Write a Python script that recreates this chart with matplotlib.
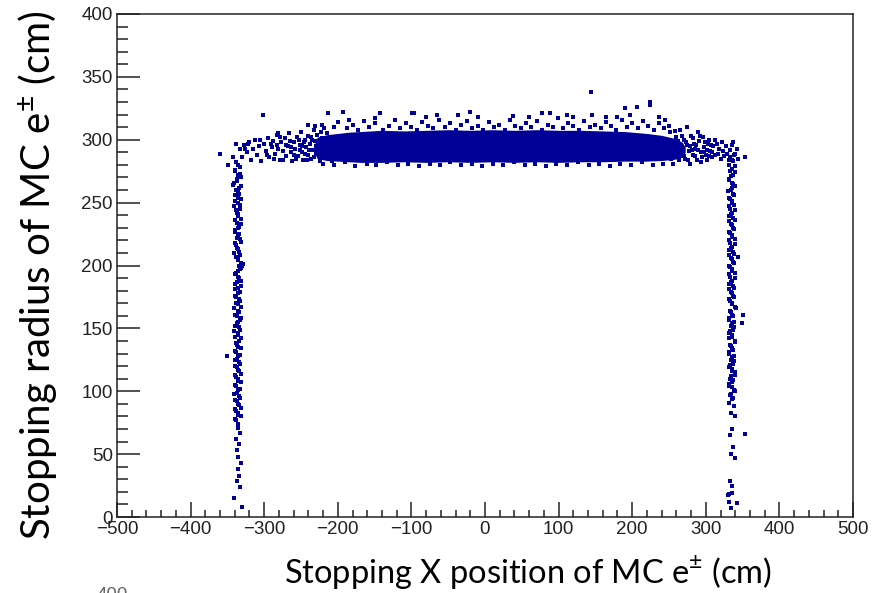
import numpy as np
import matplotlib
matplotlib.use('Agg')
import matplotlib.pyplot as plt
from matplotlib.ticker import MultipleLocator

matplotlib.rcParams['font.family'] = ['Liberation Sans', 'DejaVu Sans']
matplotlib.rcParams['mathtext.fontset'] = 'custom'
matplotlib.rcParams['mathtext.rm'] = 'Lato'
matplotlib.rcParams['axes.unicode_minus'] = True

# dense core of the band at r ~ 290 cm (too dense to pick single points)
core_x  = [-232, -228, -215, -200, -185, -170, -140, -110, -80, -50, -20, 10, 40, 70, 100, 130, 160, 190, 220, 240, 258, 268, 272]
core_lo = [290, 285, 283.5, 283, 282.5, 282, 282, 282.5, 282, 282.5, 282, 282.5, 282, 282.5, 282, 282.5, 282.5, 283, 283, 283.5, 284.5, 286, 290]
core_hi = [296, 302, 304, 305, 306, 306.5, 307.5, 307, 307.5, 308, 307.5, 308, 307.5, 308, 307.5, 307.5, 307, 306.5, 305, 303.5, 301, 298, 294]

# sparse left end of the band
band_left = [(-360, 289), (-349, 280), (-342, 286), (-338, 297), (-333, 293), (-330, 286), (-327, 296),
             (-326, 293), (-322, 297), (-324, 290), (-321, 298), (-318, 284), (-315, 293), (-312, 300),
             (-310, 288), (-307, 295), (-306, 300), (-302, 320), (-304, 283), (-300, 297), (-298, 291),
             (-295, 301), (-293, 286), (-290, 294), (-288, 299), (-285, 289), (-283, 304), (-281, 305),
             (-281, 293), (-279, 284), (-277, 298), (-275, 291), (-272, 301), (-270, 287), (-268, 295),
             (-266, 305), (-264, 290), (-262, 283), (-260, 298), (-258, 293), (-256, 302), (-254, 287),
             (-252, 296), (-250, 306), (-249, 290), (-247, 284), (-245, 300), (-243, 294), (-241, 288),
             (-240, 303), (-240, 312), (-238, 297), (-236, 285), (-234, 292), (-233, 308), (-231, 299),
             (-231, 311), (-229, 289), (-228, 304), (-226, 295), (-224, 283), (-222, 301), (-221, 290),
             (-219, 309), (-217, 296), (-216, 286), (-265, 299), (-257, 285), (-253, 300), (-248, 295),
             (-244, 289), (-239, 292), (-235, 300), (-232, 286), (-230, 295), (-227, 291), (-225, 298),
             (-223, 306), (-220, 294), (-218, 300), (-296, 288), (-291, 297), (-287, 285), (-282, 296),
             (-278, 302), (-274, 284), (-271, 296), (-263, 294), (-259, 288), (-251, 292), (-246, 298),
             (-242, 284), (-237, 302), (-214, 305), (-211, 291), (-208, 283), (-206, 299)]

# sparse right end of the band
band_right = [(252, 306), (255, 298), (257, 287), (259, 302), (261, 292), (263, 284), (265, 308), (266, 295),
              (268, 289), (270, 300), (272, 285), (274, 310), (275, 296), (277, 291), (279, 281), (280, 303),
              (282, 288), (284, 297), (286, 293), (288, 284), (289, 306), (291, 299), (293, 290), (295, 286),
              (296, 302), (298, 294), (300, 288), (301, 284), (303, 297), (305, 300), (306, 291), (308, 286),
              (310, 295), (312, 300), (313, 288), (315, 297), (317, 289), (318, 293), (320, 285), (322, 298),
              (324, 291), (325, 287), (327, 295), (329, 289), (331, 284), (333, 292), (335, 296), (337, 298),
              (338, 288), (340, 289), (342, 293), (344, 285), (353, 286), (251, 291), (253, 285), (256, 293),
              (258, 296), (260, 288), (262, 299), (264, 291), (267, 303), (269, 293), (271, 287), (273, 298),
              (276, 284), (278, 295), (281, 292), (283, 301), (285, 287), (287, 296), (290, 292), (292, 303),
              (294, 282), (297, 290), (299, 298), (302, 292), (304, 287), (307, 296), (309, 290)]

# points above and below the dense core
band_edge = [(-213, 321), (-193, 322), (-143, 321), (-99, 321), (-96, 321), (-65, 320), (-37, 320), (-20, 322),
             (38, 319), (77, 321), (88, 321), (111, 320), (145, 320), (165, 318), (197, 320), (245, 316),
             (143.6, 337.7), (224, 330), (224, 327.5), (206, 326), (190, 325),
             (-222, 312), (-205, 310), (-200, 314), (-187, 309), (-180, 312), (-172, 308), (-165, 315),
             (-158, 310), (-150, 313), (-138, 308), (-130, 311), (-122, 316), (-115, 309), (-108, 313),
             (-101, 310), (-93, 308), (-86, 314), (-78, 311), (-70, 309), (-62, 316), (-55, 310), (-48, 313),
             (-40, 308), (-32, 312), (-25, 315), (-17, 309), (-10, 311), (-3, 308), (5, 314), (12, 310),
             (19, 312), (27, 308), (34, 316), (41, 311), (49, 309), (56, 313), (63, 310), (70, 315), (78, 308),
             (85, 312), (92, 310), (99, 317), (106, 309), (113, 313), (120, 311), (128, 308), (135, 315),
             (142, 310), (150, 312), (157, 309), (164, 314), (171, 311), (178, 308), (186, 316), (193, 310),
             (200, 313), (208, 309), (215, 315), (222, 311), (229, 308), (236, 313), (243, 309), (250, 311),
             (258, 307), (236, 318), (180, 318), (120, 318), (60, 318), (-10, 318), (-80, 318), (-150, 317),
             (-185, 316),
             (-220, 281), (-205, 280), (-190, 282), (-176, 279.5), (-160, 281), (-148, 280), (-133, 282),
             (-118, 280), (-104, 281), (-90, 279.5), (-75, 281), (-61, 280), (-47, 282), (-32, 280), (-18, 281),
             (-4, 279.5), (11, 281), (25, 280), (40, 282), (54, 280), (68, 281), (83, 279.5), (97, 281),
             (112, 280), (126, 282), (141, 280), (155, 281), (170, 279.5), (184, 281), (199, 280), (213, 282),
             (228, 280), (242, 281), (256, 281)]

# left wall, x ~ -336 cm
wall_left = [(-338, 282), (-333, 278), (-340, 275), (-335, 272), (-331, 270), (-337, 267), (-342, 264),
             (-334, 262), (-336, 259), (-339, 256), (-332, 253), (-336, 250), (-341, 247), (-333, 245),
             (-337, 242), (-335, 239), (-339, 236), (-331, 233), (-336, 230), (-340, 228), (-334, 225),
             (-337, 222), (-332, 219), (-338, 216), (-335, 213), (-341, 210), (-333, 208), (-336, 205),
             (-331, 202), (-334, 200), (-330, 200), (-332, 198), (-336, 196), (-339, 193), (-334, 190),
             (-337, 187), (-332, 184), (-340, 181), (-335, 178), (-338, 175), (-333, 172), (-336, 169),
             (-341, 166), (-334, 163), (-337, 160), (-331, 158), (-335, 155), (-339, 152), (-333, 149),
             (-336, 146), (-340, 143), (-334, 140), (-337, 137), (-332, 134), (-338, 131), (-351, 128),
             (-335, 128), (-339, 125), (-333, 122), (-337, 119), (-334, 116), (-340, 113), (-336, 110),
             (-332, 107), (-338, 104), (-335, 101), (-341, 98), (-333, 95), (-337, 92), (-334, 89), (-339, 86),
             (-336, 83), (-332, 80), (-338, 77), (-335, 74),
             (-335, 280), (-339, 276), (-333, 273), (-337, 269), (-341, 266), (-332, 263), (-338, 260),
             (-334, 257), (-336, 254), (-340, 251), (-333, 248), (-338, 244), (-335, 241), (-332, 237),
             (-337, 234), (-334, 231), (-339, 227), (-336, 224), (-333, 221), (-340, 218), (-337, 214),
             (-334, 211), (-338, 207), (-335, 204), (-329, 201), (-333, 197), (-338, 194), (-335, 191),
             (-331, 188), (-339, 185), (-336, 182), (-333, 179), (-340, 176), (-334, 173), (-338, 170),
             (-332, 167), (-336, 164), (-339, 161), (-333, 157), (-337, 154), (-334, 151), (-341, 148),
             (-336, 145), (-332, 142), (-338, 138), (-335, 135), (-339, 132), (-333, 129), (-337, 126),
             (-334, 123), (-340, 120), (-336, 117), (-331, 114), (-338, 111), (-335, 108), (-339, 105),
             (-333, 102), (-337, 99), (-334, 96), (-340, 93), (-336, 90), (-332, 87), (-338, 84), (-335, 81),
             (-339, 78),
             (-336, 71), (-333, 67), (-338, 62), (-334, 58), (-337, 53), (-335, 48), (-332, 43), (-336, 38),
             (-334, 33), (-337, 29), (-333, 24), (-341, 15), (-330.6, 8)]

# right wall, x ~ 335 cm
wall_right = [(333, 286), (337, 283), (331, 280), (336, 277), (339, 274), (334, 271), (332, 268), (337, 265),
              (335, 262), (330, 259), (338, 256), (333, 253), (336, 250), (331, 247), (339, 244), (334, 241),
              (337, 238), (332, 235), (335, 232), (338, 229), (333, 226), (336, 223), (331, 220), (339, 217),
              (334, 214), (337, 211), (332, 208), (344, 207), (335, 205), (338, 202), (333, 199), (336, 196),
              (331, 193), (339, 190), (334, 187), (337, 184), (332, 181), (335, 178), (338, 175), (333, 172),
              (336, 169), (341, 166), (334, 163), (351, 160.6), (337, 160), (349, 154.5), (332, 157), (335, 154),
              (338, 151), (333, 148), (336, 145), (331, 142), (339, 139), (334, 136), (337, 133), (332, 130),
              (335, 127), (338, 124), (333, 121), (336, 118), (340, 115), (334, 112), (337, 109), (332, 106),
              (335, 103), (339, 100), (333, 97), (336, 94), (331, 91), (338, 88),
              (335, 284), (339, 279), (333, 275), (337, 272), (331, 269), (336, 266), (340, 263), (334, 260),
              (337, 257), (332, 254), (335, 251), (338, 248), (333, 245), (336, 242), (331, 239), (339, 236),
              (334, 233), (337, 230), (332, 227), (335, 224), (340, 221), (333, 218), (336, 215), (331, 212),
              (338, 209), (334, 206), (337, 203), (332, 200), (335, 197), (339, 194), (333, 191), (336, 188),
              (331, 185), (338, 182), (334, 179), (337, 176), (332, 173), (335, 170), (340, 167), (333, 164),
              (336, 161), (331, 158), (338, 155), (334, 152), (337, 149), (332, 146), (335, 143), (339, 140),
              (333, 137), (336, 134), (331, 131), (338, 128), (334, 125), (337, 122), (332, 119), (335, 116),
              (339, 113), (333, 110), (336, 107), (331, 104), (338, 101), (334, 98), (337, 95),
              (334, 83), (339, 80), (336, 70), (353, 66), (333, 65), (337, 56), (334, 50), (340, 47), (333, 29),
              (336, 25), (331.5, 18), (336, 19), (330.6, 17.5), (342.4, 11.4), (333.8, 7), (331.5, 12)]

col = '#000099'

fig = plt.figure(figsize=(8.74, 5.93), dpi=100)
ax = fig.add_axes([117/874, 1 - 517/593, 736/874, 503/593])

ax.fill_between(core_x, core_lo, core_hi, color=col, lw=0)
for grp in [band_left, band_right, band_edge, wall_left, wall_right]:
    pts = np.array(grp)
    ax.scatter(pts[:, 0], pts[:, 1], s=8, marker='s', color=col, linewidths=0)

ax.set_xlim(-500, 500)
ax.set_ylim(0, 400)
ax.xaxis.set_major_locator(MultipleLocator(100))
ax.xaxis.set_minor_locator(MultipleLocator(20))
ax.yaxis.set_major_locator(MultipleLocator(50))
ax.yaxis.set_minor_locator(MultipleLocator(10))
ax.tick_params(axis='both', which='both', direction='in', color='#222222', width=1.1,
               labelsize=13.5, labelcolor='#222222')
ax.tick_params(axis='x', which='major', length=10.8, pad=3)
ax.tick_params(axis='x', which='minor', length=5.4)
ax.tick_params(axis='y', which='major', length=16.3, pad=3)
ax.tick_params(axis='y', which='minor', length=8.1)
for sp in ax.spines.values():
    sp.set_linewidth(1.1)
    sp.set_color('#222222')

fig.text(528/874, 1 - 573/593, 'Stopping X position of MC e$^{\\pm}$ (cm)', family='Lato',
         fontsize=23.5, ha='center', va='center')
fig.text(38/874, 1 - 275/593, 'Stopping radius of MC e$^{\\pm}$ (cm)', family='Lato',
         fontsize=29, ha='center', va='center', rotation=90)
# top of a label from a plot below, cut by the edge
fig.text(112/874, 1 - 587/593, '400', fontsize=13.5, color='#666666', ha='center', va='top')

fig.savefig('out.png', dpi=100)
